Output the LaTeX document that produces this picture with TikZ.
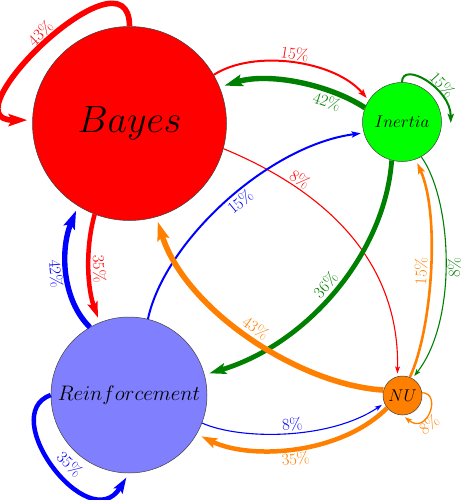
\RequirePackage{fix-cm}
\documentclass[tikz,border=0pt]{standalone}
\usetikzlibrary{arrows.meta,calc}
\definecolor{cred}{RGB}{255,0,0}
\definecolor{cgreen}{RGB}{0,128,0}
\definecolor{cgreenfill}{RGB}{0,255,0}
\definecolor{cblue}{RGB}{0,0,255}
\definecolor{corange}{RGB}{255,128,0}
\definecolor{cblfill}{RGB}{128,128,255}
\begin{document}
\begin{tikzpicture}[x=1pt,y=-1pt,
  state/.style={circle,draw=black!75,line width=0.5pt,inner sep=0pt,text=black},
  lab/.style={font=\fontsize{16.5}{16.5}\selectfont,inner sep=1.5pt},
  tipa/.style={-{Stealth[length=4pt 2.6,width=3pt 1.6,inset=1pt 0.4]}},
  w43/.style={tipa,line width=5.6pt,shorten >=5pt},
  w42/.style={tipa,line width=5.4pt,shorten >=5pt},
  w36/.style={tipa,line width=4.8pt,shorten >=5pt},
  w35/.style={tipa,line width=4.5pt,shorten >=5pt},
  w15/.style={tipa,line width=2pt,shorten >=3pt},
  w15o/.style={tipa,line width=2.6pt,shorten >=4pt},
  w8/.style={tipa,line width=1.1pt,shorten >=3pt}
]
\useasboundingbox (0,0) rectangle (466,500);

\node[state,fill=cred,minimum size=194pt] (bayes) at (129.5,123.5) {\fontsize{38}{38}\selectfont$Bayes$};
\node[state,fill=cgreenfill,minimum size=79pt] (inertia) at (402,122) {\fontsize{17}{17}\selectfont$Inertia$};
\node[state,fill=cblfill,minimum size=156pt] (reinf) at (129,395) {\fontsize{21}{21}\selectfont$Reinforcement$};
\node[state,fill=corange,minimum size=39pt] (nu) at (402.5,395.5) {\fontsize{17}{17}\selectfont$NU$};

% Bayes
\draw[cred,w43] (bayes.90) .. controls +(0,-85) and +(-88,0) .. (bayes.178) node[lab,pos=0.5,sloped,above]{43\%};
\draw[cred,w15] (bayes.30) .. controls +(40,-26) and +(-34,-40) .. (inertia.147) node[lab,pos=0.5,sloped,above]{15\%};
\draw[cred,w8] (bayes.-15) .. controls +(87,36) and +(2.5,-126) .. (nu.105) node[lab,pos=0.28,sloped,above]{8\%};
\draw[cred,w35] (bayes.-111) .. controls +(-10,36) and +(-12,-33) .. (reinf.112) node[lab,pos=0.5,sloped,above]{35\%};

% Inertia
\draw[cgreen,w42] (inertia.159) .. controls +(-35,-23) and +(50,-15) .. (bayes.22) node[lab,pos=0.28,sloped,below]{42\%};
\draw[cgreen,w15,shorten >=0pt] (inertia.90) .. controls +(0,-22) and +(0,-35) .. ($(inertia.east)+(9,1)$) node[lab,pos=0.64,sloped,above=-1pt]{15\%};
\draw[cgreen,w36] (inertia.-105) .. controls +(-7,95) and +(101,-30) .. (reinf.15) node[lab,pos=0.5,sloped,above]{36\%};
\draw[cgreen,w8] (inertia.-61) .. controls +(31,43.5) and +(45.75,-58.6) .. (nu.60) node[lab,pos=0.52,sloped,below]{8\%};

% Reinforcement
\draw[cblue,w15] (reinf.76) .. controls +(17,-79) and +(-94,12) .. (inertia.196) node[lab,pos=0.53,sloped,below]{15\%};
\draw[cblue,w42] (reinf.120) .. controls +(-28,-27.5) and +(-18,44) .. (bayes.-122) node[lab,pos=0.5,sloped,below]{42\%};
\draw[cblue,w35] (reinf.180) .. controls +(-55,20) and +(-40,65) .. (reinf.-90) node[lab,pos=0.55,sloped,above=2pt]{35\%};
\draw[cblue,w8] (reinf.-21) .. controls +(38,17) and +(-55,37) .. (nu.203) node[lab,pos=0.53,sloped,above]{8\%};

% NU
\draw[corange,w15o] (nu.68) .. controls +(22,-47) and +(25,56) .. (inertia.-70) node[lab,pos=0.5,sloped,above]{15\%};
\draw[corange,w43] (nu.164) .. controls +(-84,-5) and +(29,93) .. (bayes.-74) node[lab,pos=0.5,sloped,above]{43\%};
\draw[corange,w35] (nu.-141) .. controls +(-47,47) and +(53.5,26) .. (reinf.-30) node[lab,pos=0.5,sloped,below]{35\%};
\draw[corange,w8,line width=1.3pt] (nu.8) .. controls +(20,0) and +(25,20) .. (nu.-90) node[lab,pos=0.65,sloped,below]{8\%};
\end{tikzpicture}
\end{document}
